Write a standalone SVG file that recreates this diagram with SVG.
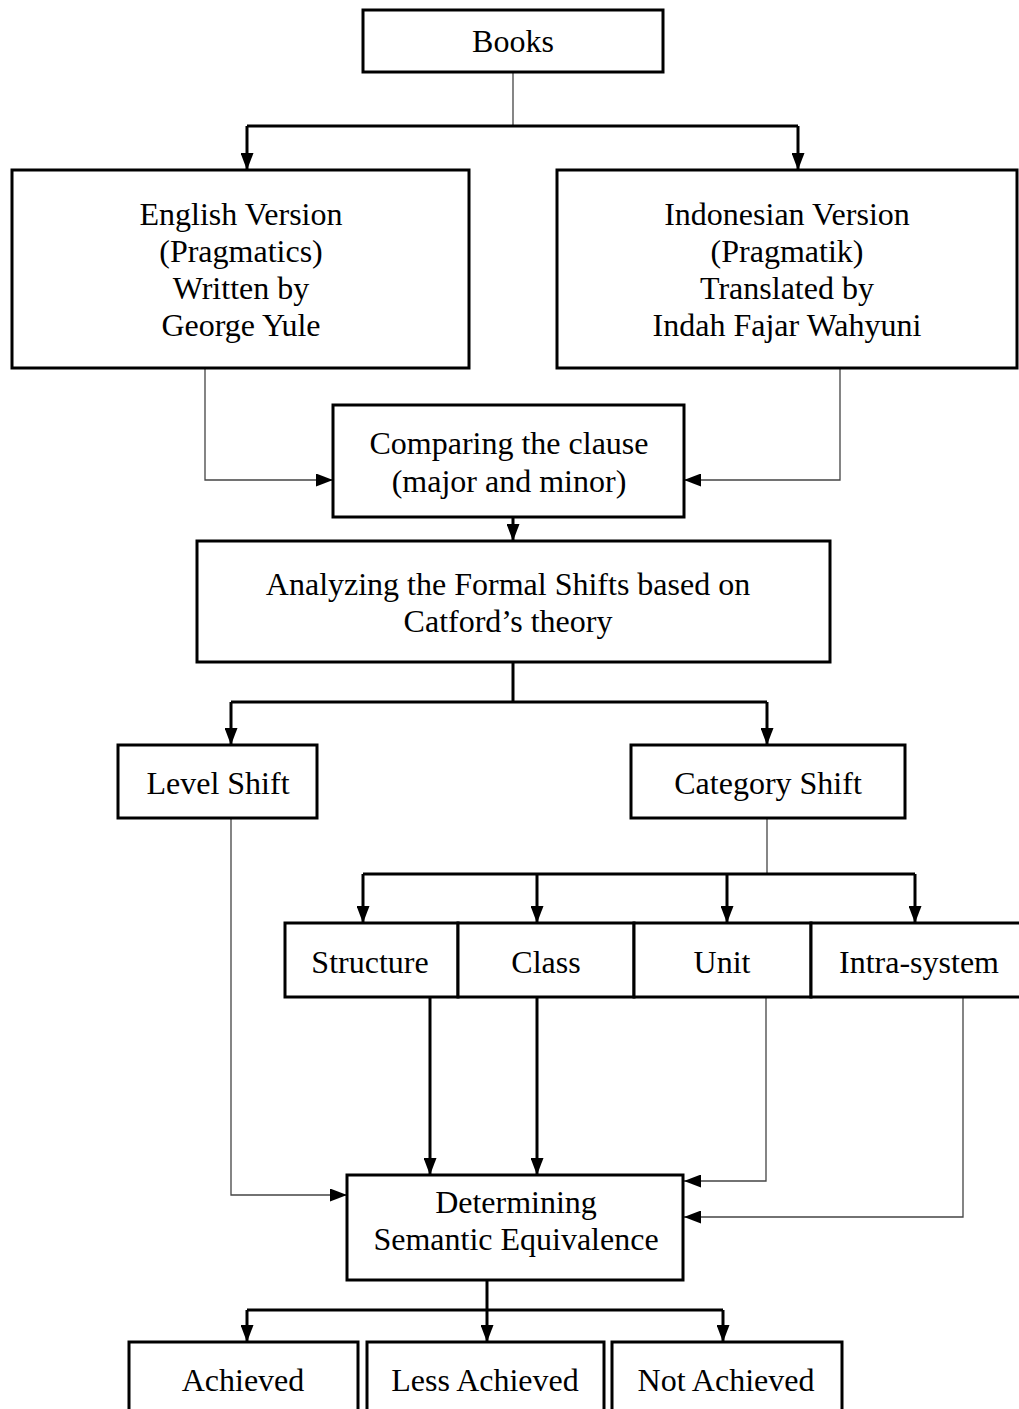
<svg xmlns="http://www.w3.org/2000/svg" width="1019" height="1409" viewBox="0 0 1019 1409">
<style>
.box{fill:#fff;stroke:#000;stroke-width:3}
.t{font-family:"Liberation Serif","Times New Roman",serif;font-size:32px;fill:#000;text-anchor:middle}
.thick{fill:none;stroke:#000;stroke-width:3}
.thin{fill:none;stroke:#444;stroke-width:1.3}
.ah{fill:#000}
</style>
<defs>
<marker id="b" viewBox="0 0 10 10" refX="10" refY="5" markerWidth="17" markerHeight="13" markerUnits="userSpaceOnUse" orient="auto" preserveAspectRatio="none"><path d="M0,0 L10,5 L0,10 z" class="ah"/></marker>
</defs>
<rect width="1019" height="1409" fill="#fff"/>
<g id="connectors">
<path class="thin" d="M513,72 V126"/>
<path class="thick" d="M247,126 H798"/>
<path class="thick" d="M247,126 V170" marker-end="url(#b)"/>
<path class="thick" d="M798,126 V170" marker-end="url(#b)"/>
<path class="thin" d="M205,368 V480 H333" marker-end="url(#b)"/>
<path class="thin" d="M840,368 V480 H684" marker-end="url(#b)"/>
<path class="thick" d="M513,517 V541" marker-end="url(#b)"/>
<path class="thick" d="M513,662 V702"/>
<path class="thick" d="M231,702 H767"/>
<path class="thick" d="M231,702 V745" marker-end="url(#b)"/>
<path class="thick" d="M767,702 V745" marker-end="url(#b)"/>
<path class="thin" d="M767,818 V874"/>
<path class="thick" d="M363,874 H915"/>
<path class="thick" d="M363,874 V923" marker-end="url(#b)"/>
<path class="thick" d="M537,874 V923" marker-end="url(#b)"/>
<path class="thick" d="M727,874 V923" marker-end="url(#b)"/>
<path class="thick" d="M915,874 V923" marker-end="url(#b)"/>
<path class="thin" d="M231,818 V1195 H347" marker-end="url(#b)"/>
<path class="thick" d="M430,997 V1175" marker-end="url(#b)"/>
<path class="thick" d="M537,997 V1175" marker-end="url(#b)"/>
<path class="thin" d="M766,997 V1181 H684" marker-end="url(#b)"/>
<path class="thin" d="M963,997 V1217 H684" marker-end="url(#b)"/>
<path class="thick" d="M487,1280 V1342" marker-end="url(#b)"/>
<path class="thick" d="M247,1310 H723"/>
<path class="thick" d="M247,1310 V1342" marker-end="url(#b)"/>
<path class="thick" d="M723,1310 V1342" marker-end="url(#b)"/>
</g>
<g id="books"><rect class="box" x="363" y="10" width="300" height="62"/><text class="t" x="513" y="52">Books</text></g>
<g id="english"><rect class="box" x="12" y="170" width="457" height="198"/>
<text class="t" x="241" y="225">English Version</text><text class="t" x="241" y="262">(Pragmatics)</text><text class="t" x="241" y="299">Written by</text><text class="t" x="241" y="336">George Yule</text></g>
<g id="indonesian"><rect class="box" x="557" y="170" width="460" height="198"/>
<text class="t" x="787" y="225">Indonesian Version</text><text class="t" x="787" y="262">(Pragmatik)</text><text class="t" x="787" y="299">Translated by</text><text class="t" x="787" y="336">Indah Fajar Wahyuni</text></g>
<g id="comparing"><rect class="box" x="333" y="405" width="351" height="112"/>
<text class="t" x="509" y="454">Comparing the clause</text><text class="t" x="509" y="492">(major and minor)</text></g>
<g id="analyzing"><rect class="box" x="197" y="541" width="633" height="121"/>
<text class="t" x="508" y="595">Analyzing the Formal Shifts based on</text><text class="t" x="508" y="632">Catford’s theory</text></g>
<g id="level"><rect class="box" x="118" y="745" width="199" height="73"/><text class="t" x="218" y="794">Level Shift</text></g>
<g id="category"><rect class="box" x="631" y="745" width="274" height="73"/><text class="t" x="768" y="794">Category Shift</text></g>
<g id="structure"><rect class="box" x="285" y="923" width="173" height="74"/><text class="t" x="370" y="973">Structure</text></g>
<g id="class"><rect class="box" x="458" y="923" width="176" height="74"/><text class="t" x="546" y="973">Class</text></g>
<g id="unit"><rect class="box" x="634" y="923" width="177" height="74"/><text class="t" x="722" y="973">Unit</text></g>
<g id="intra"><rect class="box" x="811" y="923" width="212" height="74"/><text class="t" x="919" y="973">Intra-system</text></g>
<g id="determining"><rect class="box" x="347" y="1175" width="336" height="105"/>
<text class="t" x="516" y="1213">Determining</text><text class="t" x="516" y="1250">Semantic Equivalence</text></g>
<g id="achieved"><rect class="box" x="129" y="1342" width="229" height="80"/><text class="t" x="243" y="1391">Achieved</text></g>
<g id="less"><rect class="box" x="367" y="1342" width="237" height="80"/><text class="t" x="485" y="1391">Less Achieved</text></g>
<g id="not"><rect class="box" x="612" y="1342" width="230" height="80"/><text class="t" x="726" y="1391">Not Achieved</text></g>
</svg>
